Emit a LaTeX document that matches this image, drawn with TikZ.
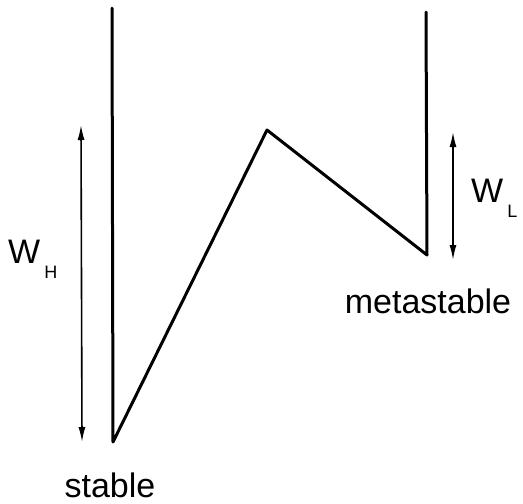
\documentclass[tikz,border=0pt]{standalone}
\usepackage{fontspec}
\setmainfont{Liberation Sans}
\usetikzlibrary{arrows.meta}

\begin{document}
\begin{tikzpicture}[x=1pt, y=-1pt]
    % Define styles
    \tikzstyle{well} = [line width=3pt, line join=round, line cap=round]
    \tikzstyle{dimarrow} = [line width=1.6pt, {Latex[length=15pt,width=7pt]}-{Latex[length=15pt,width=7pt]}]
    \tikzstyle{label} = [inner sep=0pt, font=\fontsize{34}{40}\selectfont]
    \newcommand{\subtext}[1]{\hspace{4pt}\raisebox{-15pt}{\fontsize{18}{18}\selectfont #1}}

    \useasboundingbox (0,0) rectangle (523,504);

    % Potential curve
    \coordinate (lefttop) at (112,8);
    \coordinate (stable) at (113,442);
    \coordinate (peak) at (267,130);
    \coordinate (meta) at (427,255);
    \coordinate (righttop) at (426,12);
    \draw[well] (lefttop) -- (stable) -- (peak) -- (meta) -- (righttop);

    % Barrier heights
    \coordinate (whtop) at (81,125);
    \coordinate (whbot) at (82,442);
    \coordinate (wltop) at (453,132);
    \coordinate (wlbot) at (453,260);
    \draw[dimarrow] (whtop) -- (whbot);
    \draw[dimarrow] (wltop) -- (wlbot);

    % Labels
    \node[label, anchor=base west] (wh) at (8,263) {W\subtext{H}};
    \node[label, anchor=base west] (wl) at (471,202) {W\subtext{L}};
    \node[label, anchor=base] (metalabel) at (428,313) {metastable};
    \node[label, anchor=base] (stablelabel) at (110,497) {stable};
\end{tikzpicture}
\end{document}
